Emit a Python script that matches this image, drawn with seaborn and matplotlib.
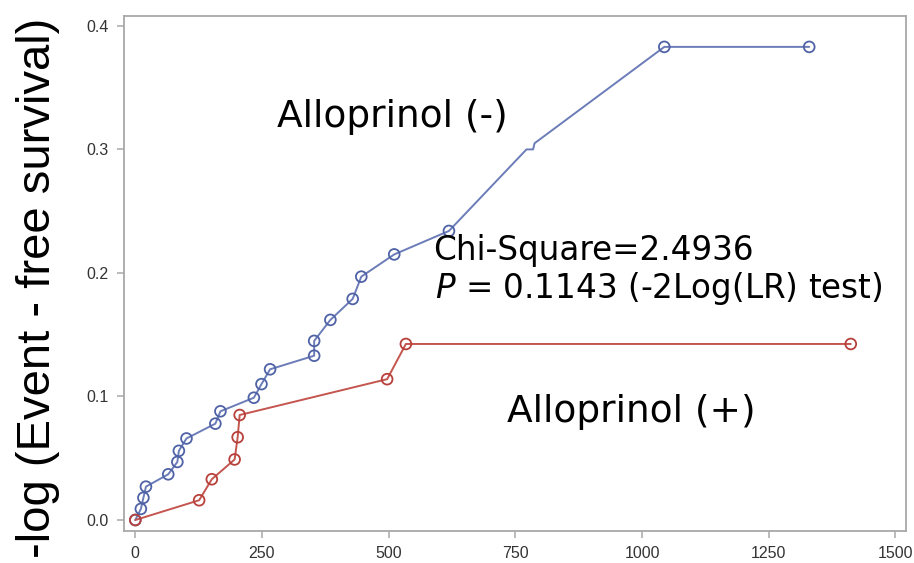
import matplotlib
matplotlib.use("Agg")
import matplotlib.pyplot as plt
from matplotlib import font_manager
import numpy as np
import pandas as pd
import seaborn as sns

# Cumulative hazard, -log(event-free survival), by follow-up day
days_minus = [0, 11, 16, 21, 65, 83, 86, 101, 158, 168, 234, 249, 266, 353, 353,
              385, 429, 446, 511, 619, 772, 785, 788, 1044, 1330]
haz_minus = [0.0, 0.009, 0.018, 0.027, 0.037, 0.047, 0.056, 0.066, 0.078, 0.088,
             0.099, 0.110, 0.122, 0.133, 0.145, 0.162, 0.179, 0.197, 0.215, 0.234,
             0.300, 0.300, 0.305, 0.383, 0.383]
event_minus = [1, 1, 1, 1, 1, 1, 1, 1, 1, 1, 1, 1, 1, 1, 1,
               1, 1, 1, 1, 1, 0, 0, 0, 1, 1]

days_plus = [0, 126, 151, 196, 202, 206, 497, 534, 1412]
haz_plus = [0.0, 0.016, 0.033, 0.049, 0.067, 0.085, 0.114, 0.1425, 0.1425]
event_plus = [1, 1, 1, 1, 1, 1, 1, 1, 1]

x_ticks = [0, 250, 500, 750, 1000, 1250, 1500]
y_ticks = [0.0, 0.1, 0.2, 0.3, 0.4]

label_minus = "Alloprinol (-)"
label_plus = "Alloprinol (+)"
stat_line1 = "Chi-Square=2.4936"
y_title = "-log (Event - free survival)"

blue_line, blue_mark = "#6b7cb8", "#4f62a6"
red_line, red_mark = "#c4554f", "#b8403a"

sns.set_theme(style="white")

installed = {f.name for f in font_manager.fontManager.ttflist}
tick_font = "Liberation Sans Narrow" if "Liberation Sans Narrow" in installed else "Liberation Sans"

df_minus = pd.DataFrame({"day": days_minus, "haz": haz_minus, "event": event_minus})
df_plus = pd.DataFrame({"day": days_plus, "haz": haz_plus, "event": event_plus})

fig = plt.figure(figsize=(9.14, 5.63), dpi=100)
ax = fig.add_axes([124 / 914, 1 - 531 / 563, (906 - 124) / 914, (531 - 16) / 563])

sns.lineplot(data=df_minus, x="day", y="haz", sort=False, estimator=None,
             color=blue_line, linewidth=1.4, ax=ax)
sns.lineplot(data=df_plus, x="day", y="haz", sort=False, estimator=None,
             color=red_line, linewidth=1.4, ax=ax)
sns.scatterplot(data=df_minus[df_minus.event == 1], x="day", y="haz", marker="o",
                s=60, facecolor="none", edgecolor=blue_mark, linewidth=1.3, ax=ax, zorder=3)
sns.scatterplot(data=df_plus[df_plus.event == 1], x="day", y="haz", marker="o",
                s=60, facecolor="none", edgecolor=red_mark, linewidth=1.3, ax=ax, zorder=4)

ax.set_xlim(-22.3, 1521)
ax.set_ylim(-0.0089, 0.408)
ax.set_xticks(x_ticks)
ax.set_yticks(y_ticks)
ax.set_xticklabels([str(v) for v in x_ticks])
ax.set_yticklabels([f"{v:.1f}" for v in y_ticks])
ax.set_xlabel("")
ax.set_ylabel("")

for sp in ax.spines.values():
    sp.set_color("#a8a8a8")
    sp.set_linewidth(1.3)
ax.tick_params(axis="both", which="major", direction="out", length=5, width=1.1,
               color="#a8a8a8", labelcolor="#333333", labelsize=11.5, pad=6,
               left=True, bottom=True)
for lab in ax.get_xticklabels() + ax.get_yticklabels():
    lab.set_family(tick_font)

txt_kw = dict(family="DejaVu Sans", color="black", va="baseline", ha="left")
ax.text(280, 0.318, label_minus, fontsize=27, **txt_kw)
ax.text(733, 0.0794, label_plus, fontsize=27, **txt_kw)
ax.text(587, 0.2105, stat_line1, fontsize=23.5, **txt_kw)
ax.text(591, 0.180, r"$\it{P}$" + " = 0.1143 (-2Log(LR) test)", fontsize=23.5, **txt_kw)

fig.text(38 / 914, 1 - 287.5 / 563, y_title, rotation=90, ha="center", va="center",
         fontsize=34, family="Liberation Sans", color="black")

fig.savefig("out.png", dpi=100)
